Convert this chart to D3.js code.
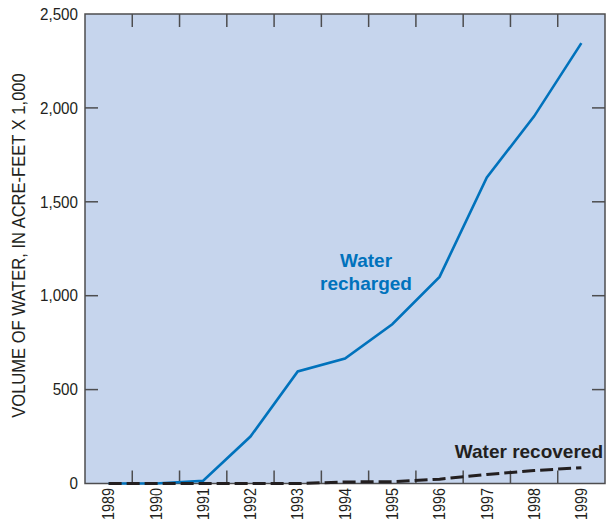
<!DOCTYPE html>
<html><head><meta charset="utf-8">
<script src="https://cdn.jsdelivr.net/npm/d3@7"></script>
<style>html,body{margin:0;padding:0;background:#fff;}svg{display:block;}</style>
</head><body>
<svg id="chart" width="607" height="524"></svg>
<script>
const years = [1989,1990,1991,1992,1993,1994,1995,1996,1997,1998,1999];
const recharged = [0,0,15,250,597,665,848,1100,1630,1955,2345];
const recovered = [0,0,0,0,0,8,10,23,48,69,84];
const yTicks = [0,500,1000,1500,2000,2500];
const yTickLabels = ["0","500","1,000","1,500","2,000","2,500"];
const innerTicks = [1989.5,1990.5,1991.5,1992.5,1993.5,1994.5,1995.5,1996.5,1997.5,1998.5];
const yTitle = "VOLUME OF WATER, IN ACRE-FEET X 1,000";
const labelRecharged = ["Water","recharged"];
const labelRecovered = "Water recovered";

const svg = d3.select("#chart");
const L = 85, R = 605, T = 14, B = 483.5;
const x = d3.scaleLinear().domain([1988.5,1999.5]).range([L,R]);
const y = d3.scaleLinear().domain([0,2500]).range([B,T]);
const axisCol = "#4d4d4f";
const font = "'Liberation Sans',Arial,sans-serif";
const txtCol = "#231f20";

svg.append("rect").attr("x",L).attr("y",T).attr("width",R-L).attr("height",B-T).attr("fill","#c6d5ed");

// inner ticks
const tl = 13;
svg.append("g").selectAll("line").data(innerTicks).join("line")
  .attr("x1",d=>x(d)).attr("x2",d=>x(d)).attr("y1",B).attr("y2",B-tl)
  .attr("stroke",axisCol).attr("stroke-width",1.5);
svg.append("g").selectAll("line").data(innerTicks).join("line")
  .attr("x1",d=>x(d)).attr("x2",d=>x(d)).attr("y1",T).attr("y2",T+tl)
  .attr("stroke",axisCol).attr("stroke-width",1.5);
const midY = yTicks.slice(1,-1);
svg.append("g").selectAll("line").data(midY).join("line")
  .attr("x1",L).attr("x2",L+tl).attr("y1",d=>y(d)).attr("y2",d=>y(d))
  .attr("stroke",axisCol).attr("stroke-width",1.5);
svg.append("g").selectAll("line").data(midY).join("line")
  .attr("x1",R).attr("x2",R-tl).attr("y1",d=>y(d)).attr("y2",d=>y(d))
  .attr("stroke",axisCol).attr("stroke-width",1.5);

// frame
svg.append("rect").attr("x",L).attr("y",T).attr("width",R-L).attr("height",B-T)
  .attr("fill","none").attr("stroke",axisCol).attr("stroke-width",1.5);

// y labels
svg.append("g").selectAll("text").data(yTicks).join("text")
  .attr("transform",d=>`translate(${L-7},${y(d)}) scale(0.95,1)`)
  .attr("dy","0.36em").attr("text-anchor","end")
  .attr("font-family",font).attr("font-size",16).attr("fill",txtCol)
  .text((d,i)=>yTickLabels[i]);

// x labels
svg.append("g").selectAll("text").data(years).join("text")
  .attr("transform",d=>`translate(${x(d)},${B+4.5}) rotate(-90) scale(0.9,1)`)
  .attr("dy","0.36em").attr("text-anchor","end")
  .attr("font-family",font).attr("font-size",16).attr("fill",txtCol)
  .text(d=>d);

// y title
svg.append("text").attr("transform",`translate(18.5,245.5) rotate(-90) scale(0.92,1)`)
  .attr("text-anchor","middle").attr("dy","0.36em")
  .attr("font-family",font).attr("font-size",18).attr("fill",txtCol)
  .text(yTitle);

const line = d3.line().x((d,i)=>x(years[i])).y(d=>y(d));
svg.append("path").datum(recharged).attr("d",line).attr("fill","none")
  .attr("stroke","#0072bc").attr("stroke-width",2.6).attr("stroke-linejoin","miter");
svg.append("path").datum(recovered).attr("d",line).attr("fill","none")
  .attr("stroke",txtCol).attr("stroke-width",3).attr("stroke-dasharray","13,5");

svg.append("g").selectAll("text").data(labelRecharged).join("text")
  .attr("x",366).attr("y",(d,i)=>267+i*23).attr("text-anchor","middle")
  .attr("font-family",font).attr("font-weight","bold")
  .attr("font-size",19).attr("fill","#0072bc").text(d=>d);
svg.append("text").attr("x",603).attr("y",458).attr("text-anchor","end")
  .attr("font-family",font).attr("font-weight","bold")
  .attr("font-size",19).attr("fill",txtCol).text(labelRecovered);
</script>
</body></html>
